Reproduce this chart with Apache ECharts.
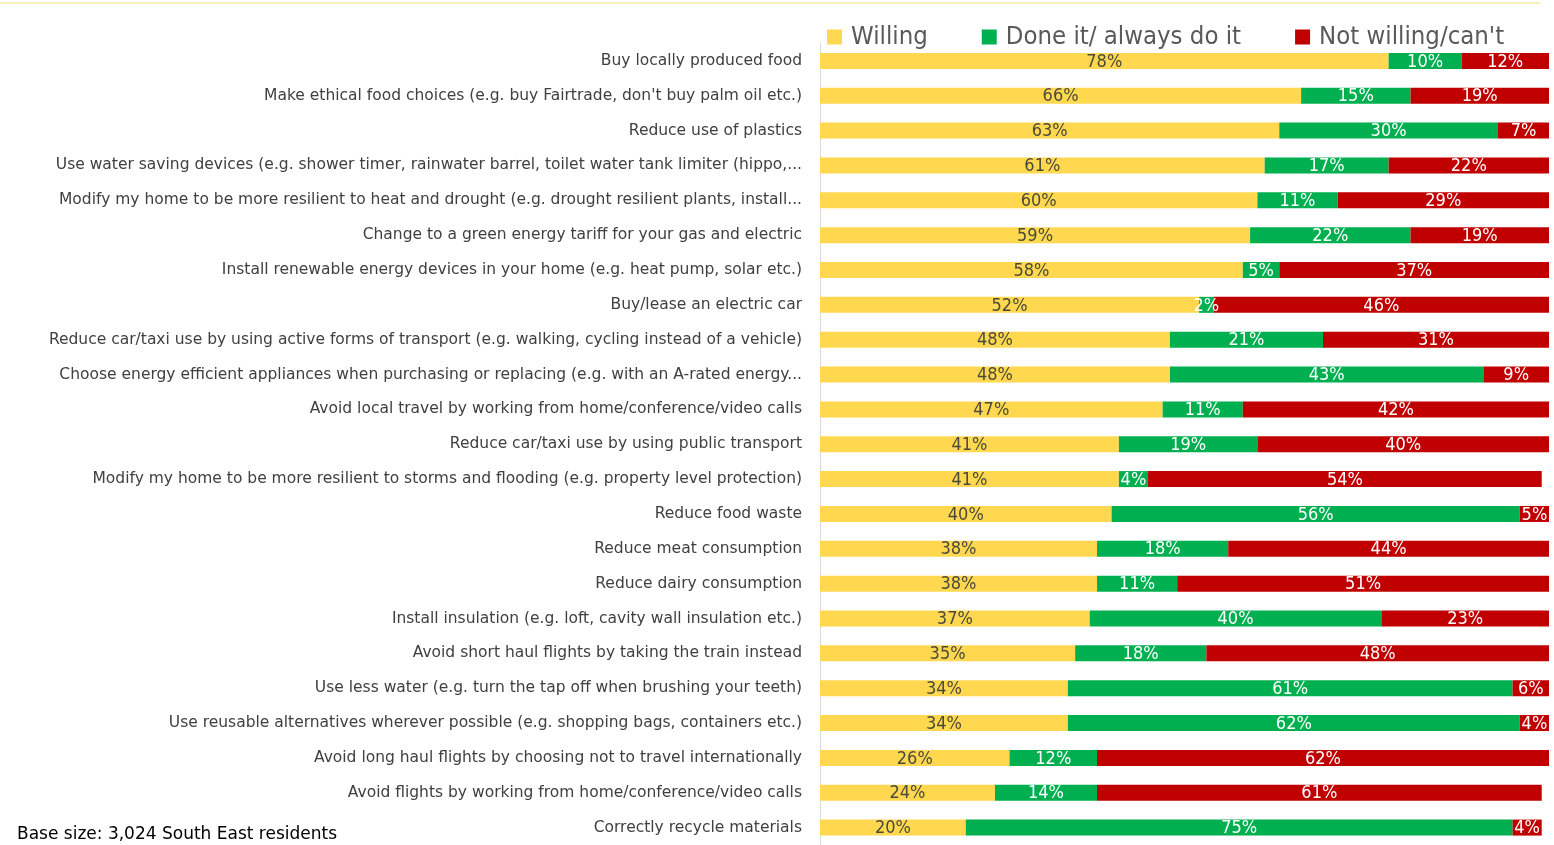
<!DOCTYPE html>
<html>
<head>
<meta charset="utf-8">
<script src="https://cdn.jsdelivr.net/npm/echarts@6/dist/echarts.min.js"></script>
<style>
  html, body { margin: 0; padding: 0; background: #fff; }
  #chart { width: 1554px; height: 845px; }
</style>
</head>
<body>
<div id="chart"></div>
<script>
const categories = [
  'Buy locally produced food',
  'Make ethical food choices (e.g. buy Fairtrade, don\'t buy palm oil etc.)',
  'Reduce use of plastics',
  'Use water saving devices (e.g. shower timer, rainwater barrel, toilet water tank limiter (hippo,...',
  'Modify my home to be more resilient to heat and drought (e.g. drought resilient plants, install...',
  'Change to a green energy tariff for your gas and electric',
  'Install renewable energy devices in your home (e.g. heat pump, solar etc.)',
  'Buy/lease an electric car',
  'Reduce car/taxi use by using active forms of transport (e.g. walking, cycling instead of a vehicle)',
  'Choose energy efficient appliances when purchasing or replacing (e.g. with an A-rated energy...',
  'Avoid local travel by working from home/conference/video calls',
  'Reduce car/taxi use by using public transport',
  'Modify my home to be more resilient to storms and flooding (e.g. property level protection)',
  'Reduce food waste',
  'Reduce meat consumption',
  'Reduce dairy consumption',
  'Install insulation (e.g. loft, cavity wall insulation etc.)',
  'Avoid short haul flights by taking the train instead',
  'Use less water (e.g. turn the tap off when brushing your teeth)',
  'Use reusable alternatives wherever possible (e.g. shopping bags, containers etc.)',
  'Avoid long haul flights by choosing not to travel internationally',
  'Avoid flights by working from home/conference/video calls',
  'Correctly recycle materials'
];
const willing = [78, 66, 63, 61, 60, 59, 58, 52, 48, 48, 47, 41, 41, 40, 38, 38, 37, 35, 34, 34, 26, 24, 20];
const doneIt = [10, 15, 30, 17, 11, 22, 5, 2, 21, 43, 11, 19, 4, 56, 18, 11, 40, 18, 61, 62, 12, 14, 75];
const notWilling = [12, 19, 7, 22, 29, 19, 37, 46, 31, 9, 42, 40, 54, 5, 44, 51, 23, 48, 6, 4, 62, 61, 4];

const narrow = 'DejaVu Sans Condensed';
const wide = 'DejaVu Sans';

const chart = echarts.init(document.getElementById('chart'));

function makeSeries(name, data, color, labelColor) {
  return {
    name: name,
    type: 'bar',
    stack: 'total',
    barWidth: 16,
    data: data,
    itemStyle: { color: color },
    label: {
      show: true,
      position: 'inside',
      offset: [0, 1],
      formatter: '{c}%',
      color: labelColor,
      fontFamily: narrow,
      fontSize: 18
    }
  };
}

const option = {
  animation: false,
  textStyle: { fontFamily: narrow },
  title: {
    text: 'Base size: 3,024 South East residents',
    left: 12,
    top: 821,
    textStyle: { fontFamily: wide, fontSize: 17, fontWeight: 'normal', color: '#000' }
  },
  legend: {
    left: 822,
    top: 19,
    itemWidth: 15,
    itemHeight: 15,
    itemGap: 54,
    icon: 'rect',
    textStyle: { fontFamily: narrow, fontSize: 25.5, color: '#595959', padding: [0, 0, 0, 4] }
  },
  grid: {
    left: 820,
    right: 5,
    top: 43.5,
    height: 803,
    containLabel: false
  },
  xAxis: {
    type: 'value',
    min: 0,
    max: 100,
    show: false
  },
  yAxis: {
    type: 'category',
    inverse: true,
    data: categories,
    axisLine: { show: true, lineStyle: { color: '#d9d9d9' } },
    axisTick: { show: false },
    axisLabel: {
      margin: 18,
      fontFamily: wide,
      fontSize: 15.5,
      color: '#404040'
    }
  },
  graphic: [{
    type: 'line',
    shape: { x1: 0, y1: 3, x2: 1540, y2: 3 },
    style: { stroke: '#f5e8a0', lineWidth: 1.5 }
  }],
  series: [
    makeSeries('Willing', willing, '#FFD84F', '#4a4a3a'),
    makeSeries('Done it/ always do it', doneIt, '#00B050', '#ffffff'),
    makeSeries('Not willing/can\'t', notWilling, '#C00000', '#ffffff')
  ]
};

chart.setOption(option);
</script>
</body>
</html>
